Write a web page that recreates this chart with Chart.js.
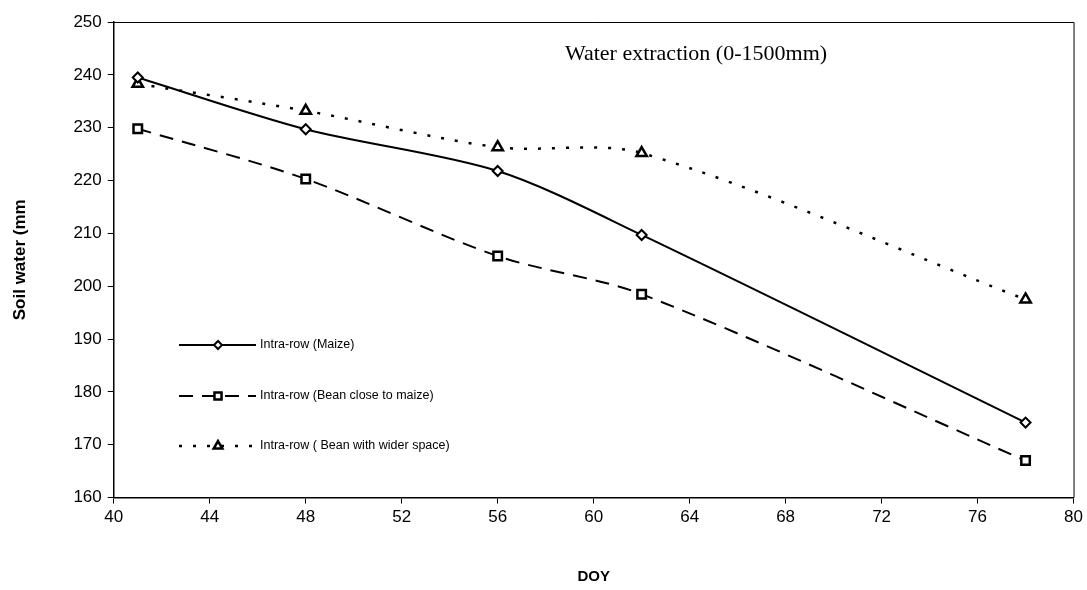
<!DOCTYPE html>
<html>
<head>
<meta charset="utf-8">
<script src="https://cdn.jsdelivr.net/npm/chart.js@4.4.0/dist/chart.umd.min.js"></script>
<style>
    html, body { margin: 0; padding: 0; background: #fff; }
    #wrap { width: 1087px; height: 590px; }
</style>
</head>
<body>
<div id="wrap"><canvas id="soilChart"></canvas></div>
<script>
const doy = [41, 48, 56, 62, 78];
const maize = [239.5, 229.7, 221.8, 209.7, 174.2];
const beanClose = [229.8, 220.3, 205.7, 198.5, 167.0];
const beanWide = [238.3, 233.2, 226.3, 225.2, 197.5];
const seriesNames = ['Intra-row (Maize)', 'Intra-row (Bean close to maize)', 'Intra-row ( Bean with wider space)'];

const toPoints = vals => vals.map((v, i) => ({ x: doy[i], y: v }));

// box around plot area + legend and title inside it
const insidePlugin = {
    id: 'inside',
    afterDraw(chart) {
        const c = chart.ctx;
        const a = chart.chartArea;
        c.save();
        c.strokeStyle = '#000';
        c.lineWidth = 1;
        c.beginPath();
        c.moveTo(a.left, a.top + 0.5);
        c.lineTo(a.right + 0.5, a.top + 0.5);
        c.lineTo(a.right + 0.5, a.bottom);
        c.stroke();

        c.fillStyle = '#000';
        c.font = '22px "Liberation Serif", "Times New Roman", serif';
        c.textAlign = 'center';
        c.textBaseline = 'middle';
        c.fillText('Water extraction (0-1500mm)', 696, 54);

        const rows = [345, 396, 446];
        chart.data.datasets.forEach((ds, i) => {
            const y = rows[i];
            c.strokeStyle = '#000';
            c.lineWidth = ds.borderWidth;
            c.setLineDash(ds.borderDash || []);
            c.beginPath();
            c.moveTo(179, y);
            c.lineTo(256, y);
            c.stroke();
            c.setLineDash([]);
            c.fillStyle = '#fff';
            c.strokeStyle = '#000';
            c.lineWidth = ds.pointBorderWidth;
            Chart.helpers.drawPoint(c, {
                pointStyle: ds.pointStyle,
                radius: ds.pointRadius - 1,
                rotation: 0,
                borderWidth: ds.pointBorderWidth
            }, 218, y);
            c.fillStyle = '#000';
            c.font = '12.5px "Liberation Sans", Arial, sans-serif';
            c.textAlign = 'left';
            c.fillText(seriesNames[i], 260, y);
        });
        c.restore();
    }
};

new Chart(document.getElementById('soilChart'), {
    type: 'line',
    data: {
        datasets: [{
            label: seriesNames[0],
            data: toPoints(maize),
            borderColor: '#000',
            borderWidth: 2,
            pointStyle: 'rectRot',
            pointRadius: 5,
            pointBorderWidth: 2,
            pointBackgroundColor: '#fff',
            pointBorderColor: '#000',
            tension: 0.3
        }, {
            label: seriesNames[1],
            data: toPoints(beanClose),
            borderColor: '#000',
            borderWidth: 2,
            borderDash: [14, 9],
            pointStyle: 'rect',
            pointRadius: 6,
            pointBorderWidth: 2.5,
            pointBackgroundColor: '#fff',
            pointBorderColor: '#000',
            tension: 0.3
        }, {
            label: seriesNames[2],
            data: toPoints(beanWide),
            borderColor: '#000',
            borderWidth: 2.5,
            borderDash: [3, 11],
            pointStyle: 'triangle',
            pointRadius: 6,
            pointBorderWidth: 2.5,
            pointBackgroundColor: '#fff',
            pointBorderColor: '#000',
            tension: 0.3
        }]
    },
    options: {
        responsive: true,
        maintainAspectRatio: false,
        animation: false,
        layout: { padding: { top: 22, right: 0, left: 10, bottom: 4 } },
        plugins: {
            legend: { display: false },
            tooltip: { enabled: false }
        },
        scales: {
            x: {
                type: 'linear',
                min: 40,
                max: 80,
                ticks: {
                    stepSize: 4,
                    color: '#000',
                    font: { family: '"Liberation Sans", Arial, sans-serif', size: 17 },
                    padding: 4
                },
                grid: { drawOnChartArea: false, color: '#000', tickLength: 6 },
                border: { color: '#000', width: 1.5 },
                title: {
                    display: true,
                    text: 'DOY',
                    color: '#000',
                    font: { family: '"Liberation Sans", Arial, sans-serif', size: 15, weight: 'bold' },
                    padding: { top: 36, bottom: 0 }
                }
            },
            y: {
                min: 160,
                max: 250,
                ticks: {
                    stepSize: 10,
                    color: '#000',
                    font: { family: '"Liberation Sans", Arial, sans-serif', size: 17 },
                    padding: 6
                },
                grid: { drawOnChartArea: false, color: '#000', tickLength: 6 },
                border: { color: '#000', width: 1.5 },
                title: {
                    display: true,
                    text: 'Soil water (mm',
                    color: '#000',
                    font: { family: '"Liberation Sans", Arial, sans-serif', size: 17, weight: 'bold' },
                    padding: { top: 0, bottom: 37 }
                }
            }
        }
    },
    plugins: [insidePlugin]
});
</script>
</body>
</html>
